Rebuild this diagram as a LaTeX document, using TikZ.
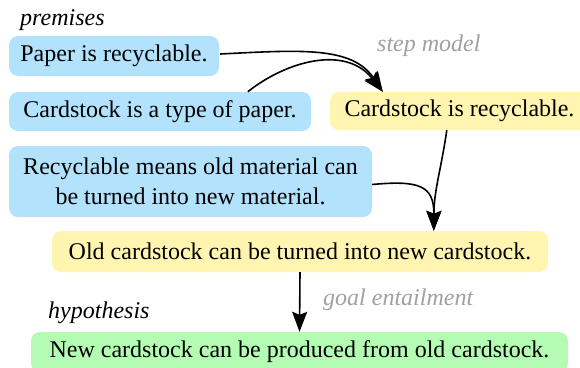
\documentclass[tikz,border=0pt]{standalone}
\usepackage{fontspec}
\setmainfont{Liberation Serif}
\usetikzlibrary{arrows.meta,calc}
\definecolor{premblue}{RGB}{179,226,252}
\definecolor{stepyellow}{RGB}{255,245,176}
\definecolor{hypgreen}{RGB}{180,252,180}
\definecolor{labgray}{RGB}{160,160,160}
\begin{document}
\begin{tikzpicture}[x=1pt,y=-1pt,
  box/.style={rounded corners=9pt, inner sep=0pt, font=\fontsize{24}{30}\selectfont, align=center},
  prem/.style={box, fill=premblue},
  stepbox/.style={box, fill=stepyellow},
  hyp/.style={box, fill=hypgreen},
  conn/.style={line width=1.6pt, -{Stealth[length=20pt,width=15pt,inset=3pt]}},
  lab/.style={font=\fontsize{24}{28}\selectfont\itshape, anchor=base west, inner sep=0pt},
  ]
\useasboundingbox (0,0) rectangle (580,367);
\node[prem, minimum width=210pt, minimum height=40pt] (n1) at (114,56) {Paper is recyclable.};
\node[prem, minimum width=302pt, minimum height=39pt] (n2) at (160,111.5) {Cardstock is a type of paper.};
\node[stepbox, minimum width=259pt, minimum height=38pt] (n3) at (459.5,111) {Cardstock is recyclable.};
\node[prem, minimum width=363pt, minimum height=71pt] (n4) at (190.5,181.5) {Recyclable means old material can\\be turned into new material.};
\node[stepbox, minimum width=496pt, minimum height=41pt] (n5) at (300,251.5) {Old cardstock can be turned into new cardstock.};
\node[hyp, minimum width=537pt, minimum height=40pt] (n6) at (299.5,352) {New cardstock can be produced from old cardstock.};

\node[lab] (lp) at (20,25) {premises};
\node[lab, text=labgray] (ls) at (377,51) {step model};
\node[lab] (lh) at (48,318) {hypothesis};
\node[lab, text=labgray] (lg) at (323,305) {goal entailment};

\coordinate (t3) at ($(n3.north west)+(53,0)$);
\coordinate (s2) at ($(n2.north west)+(239,0)$);
\coordinate (s3) at ($(n3.south west)+(117,0)$);
\coordinate (t5) at ($(n5.north west)+(382,0)$);

\draw[conn] ($(n1.east)+(1,-2)$) .. controls (300,50) and (352,46) .. (t3);
\draw[conn] (s2) .. controls (285,62) and (345,44) .. (t3);
\draw[conn] (s3) .. controls (441,170) and (434,190) .. (t5);
\draw[conn] ($(n4.east)+(0,3)$) .. controls (420,180) and (434,186) .. (t5);
\draw[conn] (n5.south) -- (n6.north);
\end{tikzpicture}
\end{document}
